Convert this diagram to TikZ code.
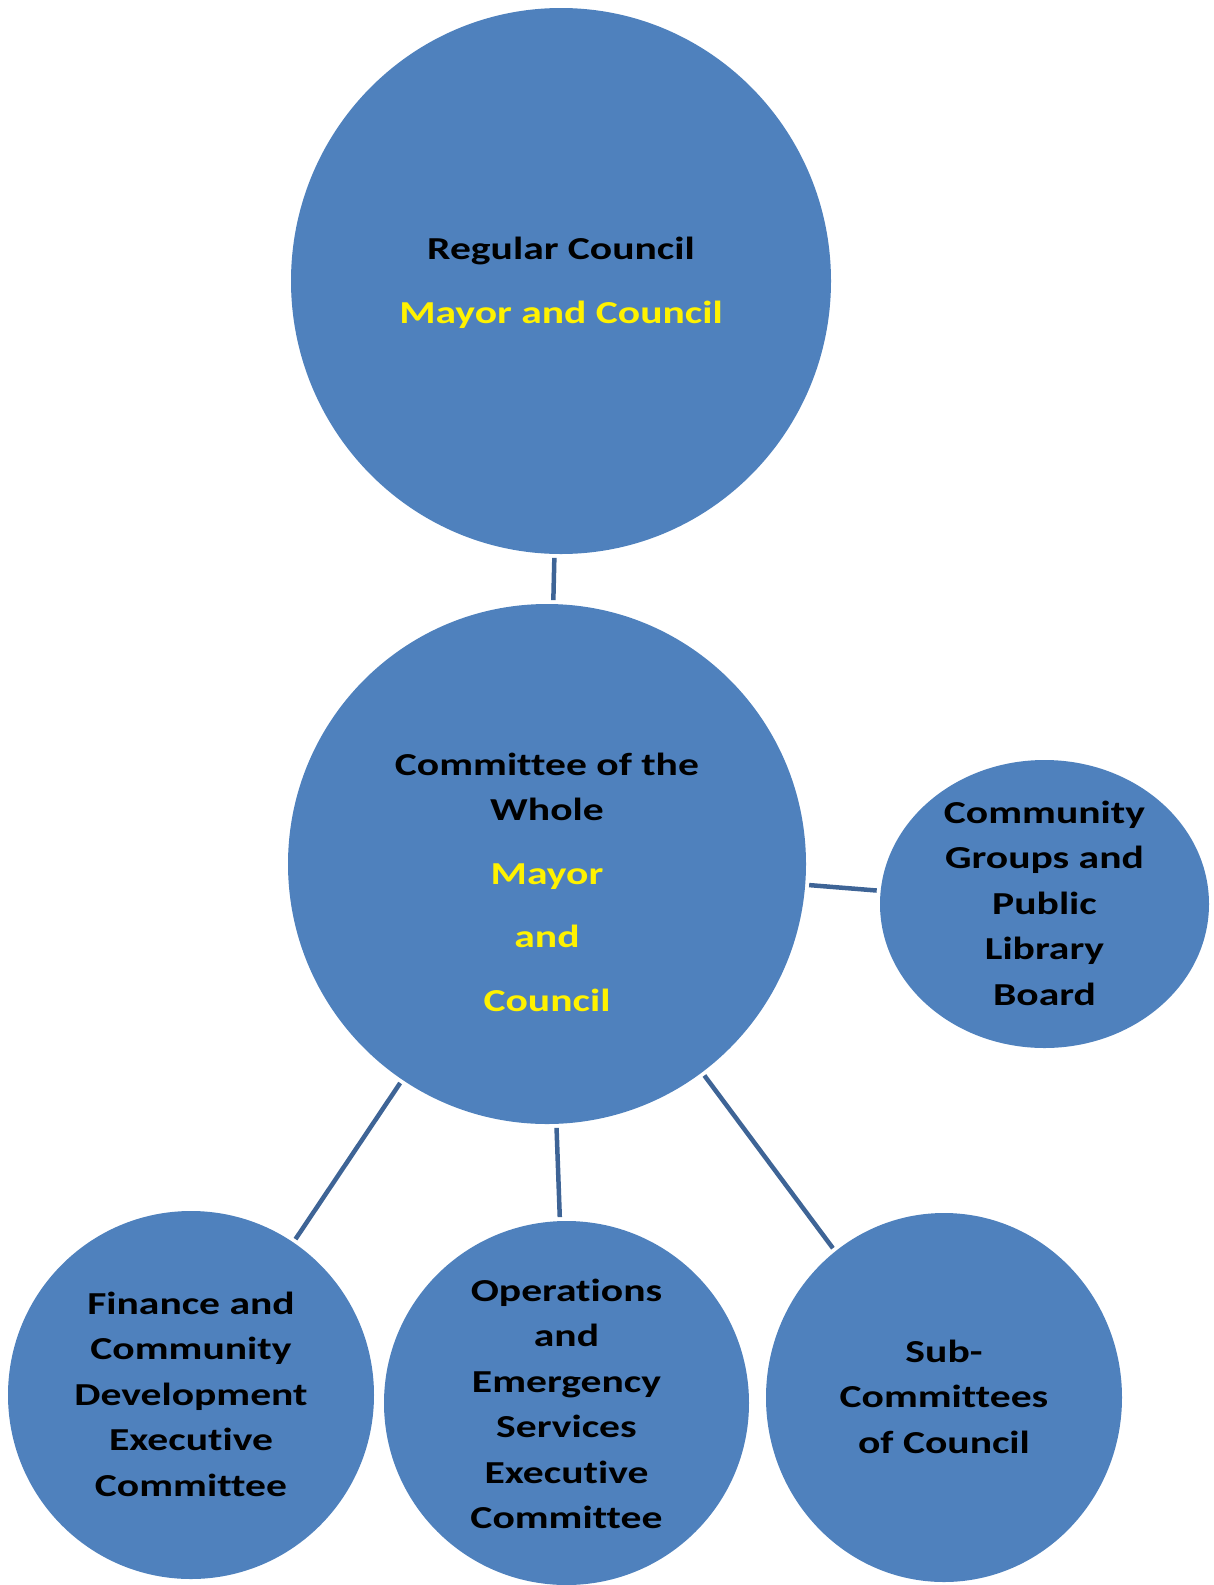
\documentclass[tikz,border=0pt]{standalone}
\usepackage{fontspec}
\setmainfont{Carlito}[FakeStretch=1.3,Ligatures=NoCommon]
\usetikzlibrary{shapes.geometric}

\definecolor{bubble}{HTML}{4F81BD}
\definecolor{link}{HTML}{3E6496}

\begin{document}
\begin{tikzpicture}[x=1pt,y=-1pt,
  bubble/.style={ellipse,fill=bubble,inner sep=0pt,outer sep=0pt},
  txt/.style={align=center,font=\fontsize{32}{45.5}\selectfont\bfseries},
  link/.style={draw=link,line width=4.5pt,shorten >=4pt,shorten <=4pt}]
\useasboundingbox (0,0) rectangle (1213,1585);

% circles
\node[bubble,minimum width=540pt,minimum height=546pt] (regular) at (561,281){};
\node[bubble,minimum width=518pt,minimum height=520pt] (whole) at (547,864){};
\node[bubble,minimum width=329pt,minimum height=288pt] (groups) at (1044.5,904){};
\node[bubble,minimum width=366pt,minimum height=368pt] (finance) at (191,1395){};
\node[bubble,minimum width=365pt,minimum height=364pt] (operations) at (566.5,1403){};
\node[bubble,minimum width=356pt,minimum height=369pt] (subcom) at (944,1397.5){};

% texts
\node[txt] (regular-t) at (561,283){Regular Council\\[18pt]\textcolor{yellow}{Mayor and Council}};
\node[txt] (whole-t) at (547,882){Committee of the\\Whole\\[18pt]\textcolor{yellow}{Mayor}\\[18pt]\textcolor{yellow}{and}\\[18pt]\textcolor{yellow}{Council}};
\node[txt] (groups-t) at (1044.5,903){Community\\Groups and\\Public\\Library\\Board};
\node[txt] (finance-t) at (191,1394){Finance and\\Community\\Development\\Executive\\Committee};
\node[txt] (operations-t) at (566.5,1404){Operations\\and\\Emergency\\Services\\Executive\\Committee};
\node[txt] (subcom-t) at (944,1396.5){Sub-\\Committees\\of Council};

% connectors
\draw[link] (regular)--(whole);
\draw[link] (whole)--(groups);
\draw[link] (whole)--(finance);
\draw[link] (whole)--(operations);
\draw[link] (whole)--(subcom);
\end{tikzpicture}
\end{document}
